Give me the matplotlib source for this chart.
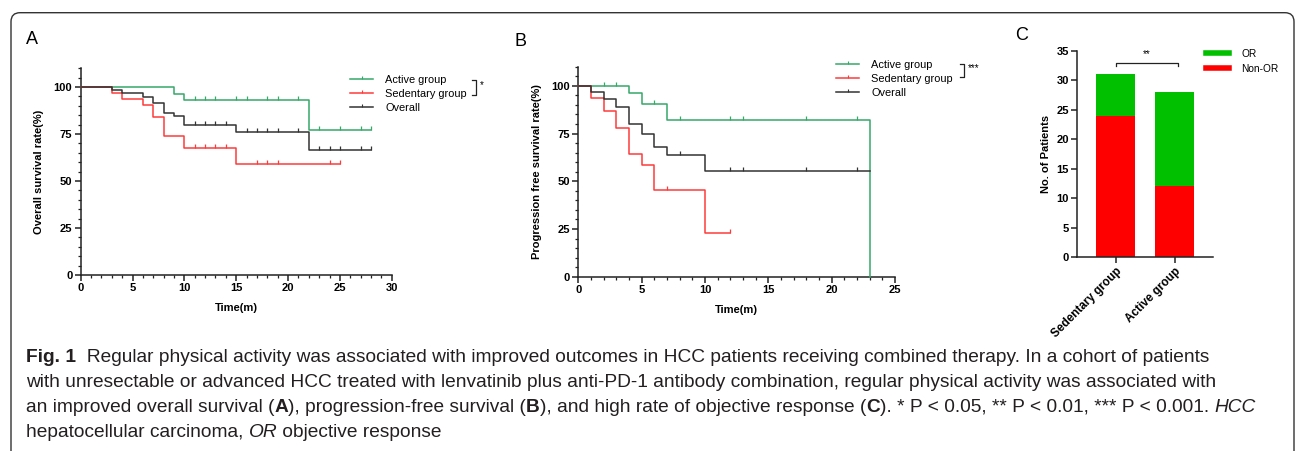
import matplotlib
matplotlib.use('Agg')
import matplotlib.pyplot as plt
import numpy as np
from matplotlib.lines import Line2D
from matplotlib.patches import FancyBboxPatch
from matplotlib.path import Path
from matplotlib.ticker import MultipleLocator
from matplotlib.transforms import IdentityTransform
from matplotlib import font_manager

# ---- data ----
# A: overall survival (%), step times / survival, end of follow-up, censor times
os_active_t = [0, 9, 10, 22]
os_active_s = [100, 96.4, 92.9, 77.4]
os_active_end = 28
os_active_cens = [11, 12, 13, 15, 16, 18, 19, 21, 23, 25, 27, 28]

os_sed_t = [0, 3, 4, 6, 7, 8, 10, 15]
os_sed_s = [100, 96.8, 93.5, 90.3, 83.9, 74.2, 67.4, 58.9]
os_sed_end = 25
os_sed_cens = [11, 12, 13, 14, 17, 18, 19, 24, 25]

os_all_t = [0, 3, 4, 6, 7, 8, 9, 10, 15, 22]
os_all_s = [100, 98.3, 96.6, 94.9, 91.5, 86.4, 84.7, 79.6, 76.2, 66.6]
os_all_end = 28
os_all_cens = [11, 12, 13, 14, 16, 17, 18, 19, 21, 23, 24, 25, 27, 28]

# B: progression free survival (%)
pfs_active_t = [0, 4, 5, 7, 23]
pfs_active_s = [100, 96.0, 90.4, 82.2, 0]
pfs_active_end = 23
pfs_active_cens = [2, 3, 6, 8, 12, 13, 18, 22]

pfs_sed_t = [0, 1, 2, 3, 4, 5, 6, 10]
pfs_sed_s = [100, 93.5, 86.7, 78.0, 64.3, 58.5, 45.5, 22.7]
pfs_sed_end = 12
pfs_sed_cens = [7, 12]

pfs_all_t = [0, 1, 2, 3, 4, 5, 6, 7, 10]
pfs_all_s = [100, 96.7, 93.3, 88.9, 80.1, 74.5, 68.2, 63.6, 55.6]
pfs_all_end = 23
pfs_all_cens = [8, 12, 13, 18, 22]

km_labels = ['Active group', 'Sedentary group', 'Overall']

# C: objective response counts
groups = ['Sedentary group', 'Active group']
non_or = [24, 12]
or_resp = [7, 16]

GREEN = '#35a86a'
RED = '#ff3a3a'
BLACK = '#333333'
CENSOR = Path([(0, 0), (0, 1)])  # small upward tick

W, H = 1295, 451
plt.rcParams['font.family'] = ['Liberation Sans', 'DejaVu Sans']
plt.rcParams['font.weight'] = 'bold'
plt.rcParams['axes.labelweight'] = 'bold'

fig = plt.figure(figsize=(W / 100, H / 100), dpi=100)


def axes_px(l, t, r, b):
    return fig.add_axes([l / W, 1 - b / H, (r - l) / W, (b - t) / H])


def fpx(x, y):
    return x / W, 1 - y / H


def km_curve(ax, t, s, end, cens, color):
    tt = list(t) + [end]
    ss = list(s) + [s[-1]]
    ax.step(tt, ss, where='post', color=color, lw=1.1, clip_on=False, zorder=3)
    idx = np.searchsorted(t, cens, side='right') - 1
    ax.plot(cens, np.array(s)[idx], ls='none', marker=CENSOR, ms=6, mew=0.9,
            color=color, clip_on=False, zorder=3)


def style_axes(ax):
    for side in ['top', 'right']:
        ax.spines[side].set_visible(False)
    for side in ['left', 'bottom']:
        ax.spines[side].set_linewidth(1.1)
        ax.spines[side].set_color('#222222')
    ax.tick_params(which='major', length=4, width=1.1, labelsize=8, pad=2,
                   color='#222222')
    ax.tick_params(which='minor', length=2.2, width=0.9, color='#222222')


def style_km(ax, xmax, ylabel):
    ax.set_xlim(0, xmax)
    ax.set_ylim(0, 110)
    ax.xaxis.set_major_locator(MultipleLocator(5))
    ax.xaxis.set_minor_locator(MultipleLocator(1))
    ax.yaxis.set_major_locator(MultipleLocator(25))
    ax.yaxis.set_minor_locator(MultipleLocator(5))
    style_axes(ax)
    ax.set_xlabel('Time(m)', fontsize=8, labelpad=7)
    ax.set_ylabel(ylabel, fontsize=8, labelpad=7)


def km_legend(ax, x, y):
    handles = [Line2D([], [], color=c, lw=1.1, marker=CENSOR, ms=5, mew=0.8)
               for c in (GREEN, RED, BLACK)]
    ax.legend(handles, km_labels, loc='upper left', bbox_to_anchor=fpx(x, y),
              bbox_transform=fig.transFigure, frameon=False, numpoints=1,
              prop={'size': 7.9, 'weight': 'normal'}, handlelength=2.1,
              handletextpad=1.1, labelspacing=0.35, borderpad=0, borderaxespad=0)


def bracket(x, y0, y1, label, tx):
    xs = [x - 4 / W, x, x, x - 4 / W]
    ys = [y0, y0, y1, y1]
    fig.add_artist(Line2D(xs, ys, transform=fig.transFigure, color='#222222', lw=0.9))
    fig.text(tx, (y0 + y1) / 2 + 2 / H, label, fontsize=7, fontweight='normal',
             ha='left', va='center')


# ---- panel A ----
axA = axes_px(80.7, 68.3, 391.7, 275)
km_curve(axA, os_active_t, os_active_s, os_active_end, os_active_cens, GREEN)
km_curve(axA, os_sed_t, os_sed_s, os_sed_end, os_sed_cens, RED)
km_curve(axA, os_all_t, os_all_s, os_all_end, os_all_cens, BLACK)
style_km(axA, 30, 'Overall survival rate(%)')
km_legend(axA, 350, 75)
bracket(475.7 / W, 1 - 80 / H, 1 - 95 / H, '*', 480 / W)

# ---- panel B ----
axB = axes_px(578.3, 66.7, 895, 276.7)
km_curve(axB, pfs_active_t, pfs_active_s, pfs_active_end, pfs_active_cens, GREEN)
km_curve(axB, pfs_sed_t, pfs_sed_s, pfs_sed_end, pfs_sed_cens, RED)
km_curve(axB, pfs_all_t, pfs_all_s, pfs_all_end, pfs_all_cens, BLACK)
style_km(axB, 25, 'Progression free survival rate(%)')
km_legend(axB, 836, 60)
bracket(964.3 / W, 1 - 64 / H, 1 - 77 / H, '***', 968 / W)

# ---- panel C ----
axC = axes_px(1077.3, 50.7, 1213, 257.3)
xc = np.arange(len(groups))
axC.bar(xc, non_or, width=0.66, color='#ff0000', label='Non-OR')
axC.bar(xc, or_resp, width=0.66, bottom=non_or, color='#00c000', label='OR')
axC.set_xlim(-0.65, 1.65)
axC.set_ylim(0, 35)
axC.yaxis.set_major_locator(MultipleLocator(5))
style_axes(axC)
axC.set_xticks(xc)
axC.set_xticklabels(groups, rotation=45, ha='right', rotation_mode='anchor',
                    fontsize=8.5)
axC.set_ylabel('No. of Patients', fontsize=8, labelpad=4)
axC.plot([0, 0, 1.05, 1.05], [32.4, 33, 33, 32.4], color='#222222', lw=0.9,
         clip_on=False)
axC.text(0.52, 33.5, '**', ha='center', va='bottom', fontsize=7, fontweight='normal')
hC = [Line2D([], [], color='#00c000', lw=4), Line2D([], [], color='#ff0000', lw=4)]
axC.legend(hC, ['OR', 'Non-OR'], loc='upper left', bbox_to_anchor=fpx(1206, 49),
           bbox_transform=fig.transFigure, frameon=False,
           prop={'size': 7.3, 'weight': 'normal'}, handlelength=2.3,
           handletextpad=1.2, labelspacing=0.45, borderpad=0, borderaxespad=0)

# panel letters
for letter, x, y in [('A', 32, 40), ('B', 521, 41), ('C', 1022, 36)]:
    fig.text(*fpx(x, y), letter, fontsize=13, fontweight='normal',
             ha='center', va='center')

# ---- frame ----
frame = FancyBboxPatch((11, -40), 1294 - 11, (H - 12.7) + 40,
                       boxstyle='round,pad=0,rounding_size=9',
                       transform=IdentityTransform(), fill=False,
                       ec='#333333', lw=1.0, clip_on=False)
fig.add_artist(frame)

# ---- caption ----
caption = [
    [('Fig. 1', 'bold', 'normal'),
     ('  Regular physical activity was associated with improved outcomes in HCC '
      'patients receiving combined therapy. In a cohort of patients', 'normal', 'normal')],
    [('with unresectable or advanced HCC treated with lenvatinib plus anti-PD-1 antibody '
      'combination, regular physical activity was associated with', 'normal', 'normal')],
    [('an improved overall survival (', 'normal', 'normal'), ('A', 'bold', 'normal'),
     ('), progression-free survival (', 'normal', 'normal'), ('B', 'bold', 'normal'),
     ('), and high rate of objective response (', 'normal', 'normal'), ('C', 'bold', 'normal'),
     ('). * P < 0.05, ** P < 0.01, *** P < 0.001. ', 'normal', 'normal'),
     ('HCC', 'normal', 'italic')],
    [('hepatocellular carcinoma, ', 'normal', 'normal'), ('OR', 'normal', 'italic'),
     (' objective response', 'normal', 'normal')],
]

cap_family = 'Liberation Sans'
try:
    font_manager.findfont('Liberation Sans Narrow', fallback_to_default=False)
    cap_family = 'Liberation Sans Narrow'
except Exception:
    pass

renderer = fig.canvas.get_renderer()


def run_width(s, weight, style, size):
    t1 = fig.text(0, 0, 'x' + s + 'x', fontsize=size, family=cap_family,
                  fontweight=weight, fontstyle=style, transform=IdentityTransform())
    t2 = fig.text(0, 0, 'xx', fontsize=size, family=cap_family,
                  fontweight=weight, fontstyle=style, transform=IdentityTransform())
    w = t1.get_window_extent(renderer).width - t2.get_window_extent(renderer).width
    t1.remove()
    t2.remove()
    return w


base = 12.0
w1 = sum(run_width(s, wt, st, base) for s, wt, st in caption[0])
cap_size = base * (1217 - 26) / w1

for i, line in enumerate(caption):
    x = 26
    y = H - (362 + 25 * i)
    for s, wt, st in line:
        fig.text(x, y, s, fontsize=cap_size, family=cap_family, fontweight=wt,
                 fontstyle=st, color='#231f20', ha='left', va='baseline',
                 transform=IdentityTransform())
        x += run_width(s, wt, st, cap_size)

fig.savefig('out.png', dpi=100)
